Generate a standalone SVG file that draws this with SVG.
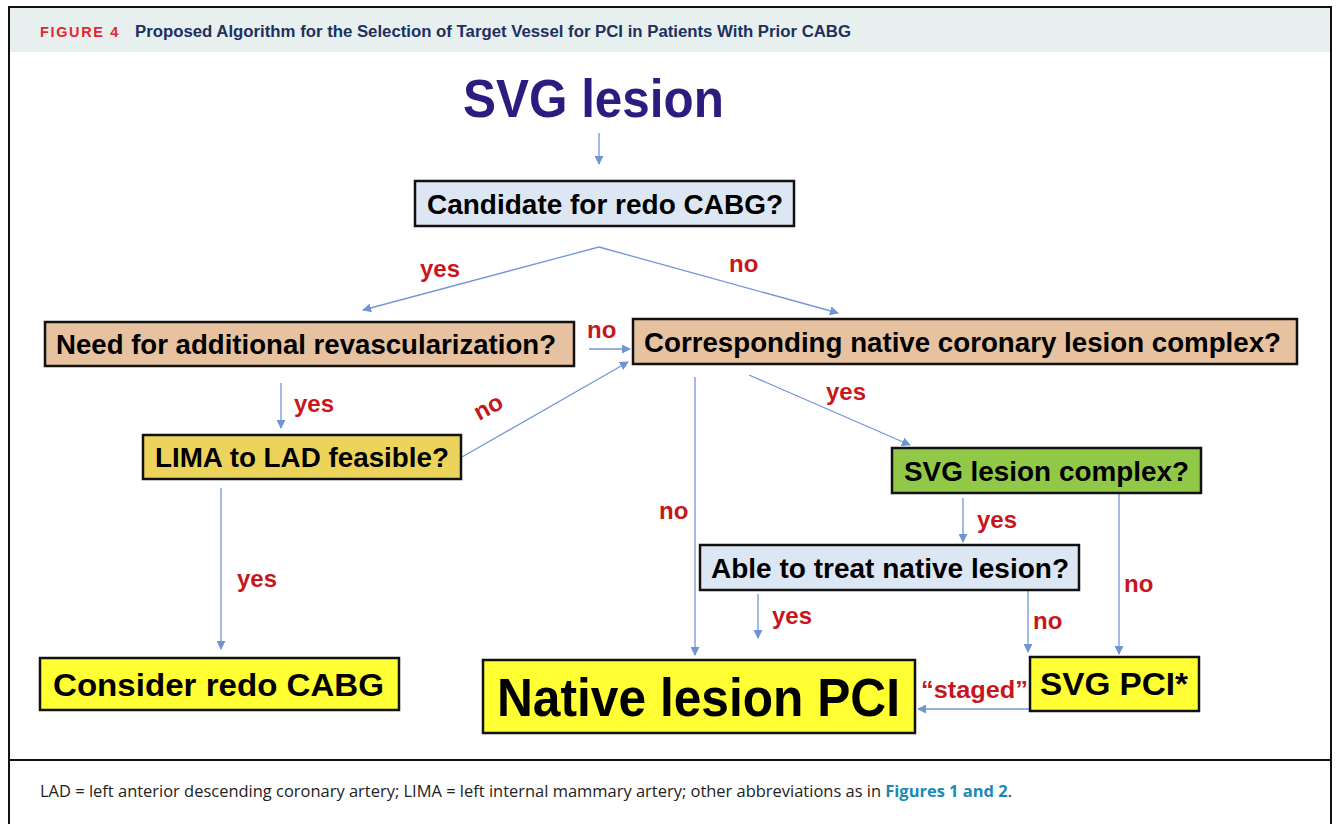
<svg xmlns="http://www.w3.org/2000/svg" width="1336" height="824" viewBox="0 0 1336 824">
<style>
.box{stroke:#111;stroke-width:2.5}
.t{font-family:"Liberation Sans",Arial,sans-serif;font-weight:bold;fill:#000;text-anchor:start}
.lbl{font-family:"Liberation Sans",Arial,sans-serif;font-weight:bold;fill:#c8161d;font-size:24px}
.c{fill:none;stroke:#7396d6;stroke-width:1.3}
</style>
<defs>
<marker id="ah" viewBox="0 0 10 10" refX="9" refY="5" markerWidth="9" markerHeight="9" markerUnits="userSpaceOnUse" orient="auto">
<path d="M0,0 L10,5 L0,10 z" fill="#6f93d4"/>
</marker>
</defs>
<rect x="0" y="0" width="1336" height="824" fill="#fff"/>
<g id="frame">
<rect x="9" y="7" width="1322" height="45" fill="#e8f0ef"/>
<path d="M9,830 V7 H1331 V830" fill="none" stroke="#111" stroke-width="2"/>
<line x1="9" y1="760" x2="1331" y2="760" stroke="#111" stroke-width="2"/>
<text x="40" y="37" font-family="'Liberation Sans',Arial,sans-serif" font-weight="bold" font-size="14" fill="#e0282e" letter-spacing="1.6" textLength="80" lengthAdjust="spacingAndGlyphs">FIGURE 4</text>
<text x="135" y="37" font-family="'Liberation Sans',Arial,sans-serif" font-weight="bold" font-size="16" fill="#1d3160" textLength="716" lengthAdjust="spacingAndGlyphs">Proposed Algorithm for the Selection of Target Vessel for PCI in Patients With Prior CABG</text>
<text x="40" y="797" font-family="'Open Sans','Liberation Sans',sans-serif" font-size="16" fill="#222" textLength="972" lengthAdjust="spacingAndGlyphs">LAD = left anterior descending coronary artery; LIMA = left internal mammary artery; other abbreviations as in <tspan font-weight="bold" fill="#1a8ab3">Figures 1 and 2</tspan>.</text>
</g>
<g id="connectors">
<line class="c" x1="599" y1="133" x2="599" y2="164" marker-end="url(#ah)"/>
<line class="c" x1="599" y1="247" x2="838" y2="313" marker-end="url(#ah)"/>
<line class="c" x1="599" y1="247" x2="363" y2="310" marker-end="url(#ah)"/>
<line class="c" x1="589" y1="349" x2="630" y2="349" marker-end="url(#ah)"/>
<line class="c" x1="281" y1="383" x2="281" y2="428" marker-end="url(#ah)"/>
<line class="c" x1="462" y1="457" x2="628" y2="362" marker-end="url(#ah)"/>
<line class="c" x1="221" y1="488" x2="221" y2="649" marker-end="url(#ah)"/>
<line class="c" x1="695" y1="377" x2="695" y2="655" marker-end="url(#ah)"/>
<line class="c" x1="749" y1="375" x2="910" y2="445" marker-end="url(#ah)"/>
<line class="c" x1="963" y1="498" x2="963" y2="542" marker-end="url(#ah)"/>
<line class="c" x1="1119" y1="493" x2="1119" y2="654" marker-end="url(#ah)"/>
<line class="c" x1="758" y1="594" x2="758" y2="638" marker-end="url(#ah)"/>
<line class="c" x1="1028" y1="590" x2="1028" y2="652" marker-end="url(#ah)"/>
<line class="c" x1="1034" y1="709" x2="918" y2="709" marker-end="url(#ah)"/>
<text class="lbl" x="420" y="277">yes</text>
<text class="lbl" x="729" y="272">no</text>
<text class="lbl" x="587" y="338">no</text>
<text class="lbl" x="294" y="412">yes</text>
<text class="lbl" x="479" y="421" transform="rotate(-28 479 421)">no</text>
<text class="lbl" x="237" y="587">yes</text>
<text class="lbl" x="659" y="519">no</text>
<text class="lbl" x="826" y="400">yes</text>
<text class="lbl" x="977" y="528">yes</text>
<text class="lbl" x="1124" y="592">no</text>
<text class="lbl" x="772" y="624">yes</text>
<text class="lbl" x="1033" y="629">no</text>
<text class="lbl" x="921" y="698" textLength="107" lengthAdjust="spacingAndGlyphs">“staged”</text>
</g>
<g id="n-svg-lesion">
<text x="463" y="117" font-family="'Liberation Sans',Arial,sans-serif" font-weight="bold" font-size="53" fill="#2b1d80" textLength="261" lengthAdjust="spacingAndGlyphs">SVG lesion</text>
</g>
<g id="n-candidate">
<rect class="box" x="415" y="181" width="379" height="45" fill="#dde6f3"/>
<text class="t" x="427" y="214" font-size="28" textLength="356" lengthAdjust="spacingAndGlyphs">Candidate for redo CABG?</text>
</g>
<g id="n-need">
<rect class="box" x="45" y="322" width="529" height="44" fill="#e6c2a0"/>
<text class="t" x="56" y="354" font-size="28" textLength="500" lengthAdjust="spacingAndGlyphs">Need for additional revascularization?</text>
</g>
<g id="n-corresponding">
<rect class="box" x="633" y="319" width="664" height="45" fill="#e6c2a0"/>
<text class="t" x="644" y="352" font-size="28" textLength="637" lengthAdjust="spacingAndGlyphs">Corresponding native coronary lesion complex?</text>
</g>
<g id="n-lima">
<rect class="box" x="143" y="435" width="318" height="44" fill="#ecd45c"/>
<text class="t" x="155" y="467" font-size="28" textLength="294" lengthAdjust="spacingAndGlyphs">LIMA to LAD feasible?</text>
</g>
<g id="n-svg-complex">
<rect class="box" x="892" y="448" width="309" height="45" fill="#92c847"/>
<text class="t" x="904" y="481" font-size="28" textLength="285" lengthAdjust="spacingAndGlyphs">SVG lesion complex?</text>
</g>
<g id="n-able">
<rect class="box" x="700" y="545" width="379" height="45" fill="#dde6f3"/>
<text class="t" x="711" y="578" font-size="28" textLength="358" lengthAdjust="spacingAndGlyphs">Able to treat native lesion?</text>
</g>
<g id="n-consider">
<rect class="box" x="40" y="658" width="359" height="52" fill="#ffff33"/>
<text class="t" x="53" y="696" font-size="31" textLength="331" lengthAdjust="spacingAndGlyphs">Consider redo CABG</text>
</g>
<g id="n-native-pci">
<rect class="box" x="483" y="660" width="432" height="73" fill="#ffff33"/>
<text class="t" x="497" y="716" font-size="53" textLength="403" lengthAdjust="spacingAndGlyphs">Native lesion PCI</text>
</g>
<g id="n-svg-pci">
<rect class="box" x="1030" y="657" width="169" height="54" fill="#ffff33"/>
<text class="t" x="1040" y="695" font-size="31" textLength="148" lengthAdjust="spacingAndGlyphs">SVG PCI*</text>
</g>
</svg>
